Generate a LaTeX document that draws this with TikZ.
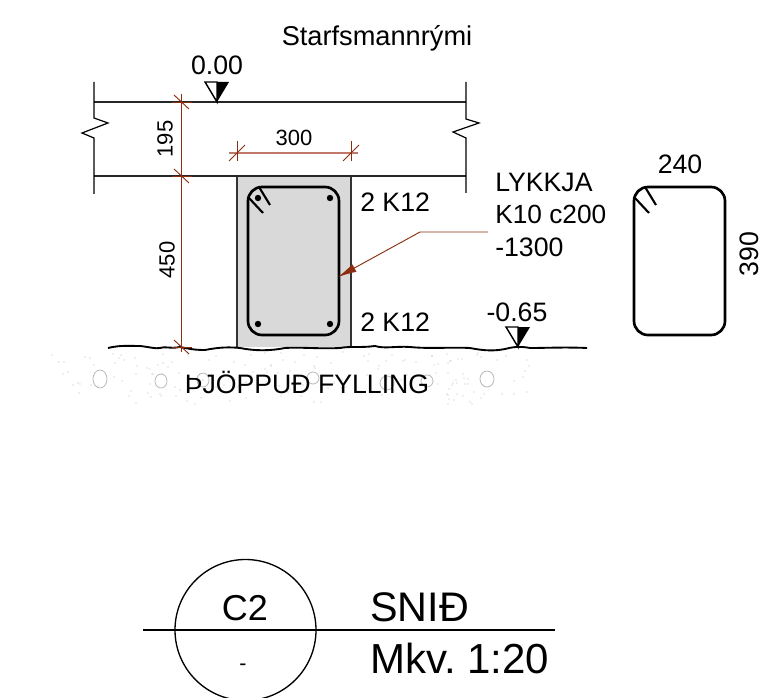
\documentclass[tikz,border=0pt]{standalone}
\usepackage{fontspec}
\setmainfont{Liberation Sans}
\usepackage{xcolor}
\usetikzlibrary{arrows.meta,calc,positioning}
\definecolor{dimred}{RGB}{140,45,15}
\definecolor{dimpale}{RGB}{192,120,104}
\definecolor{concrete}{RGB}{217,217,217}
\definecolor{stipple}{RGB}{185,185,185}
\newcommand{\TxtSize}[1]{\fontsize{#1}{#1}\selectfont}
\tikzset{
  slabLine/.style={line width=1.1pt, black!85},
  stirrup/.style={draw, rounded corners=10.5pt, line width=2pt},
  hook/.style={line width=1.6pt},
  bar/.style={circle, fill=black, minimum size=4.8pt, inner sep=0pt},
  dimLine/.style={dimred, line width=0.7pt},
  paleLine/.style={dimpale, line width=1.6pt},
  groundLine/.style={line width=1.4pt},
  stone/.style={stipple, line width=0.6pt},
  lbl/.style={inner sep=0pt, font=\TxtSize{20}},
  dimLbl/.style={inner sep=0pt, font=\TxtSize{16.5}},
  leftLbl/.style={lbl, anchor=west}
}
% level marker with its tip on the given point
\newcommand{\LevelMark}[1]{%
  \draw[line width=1.1pt, fill=white] (#1) -- ++(-12,-20) -- ++(12,0) -- cycle;
  \fill (#1) -- ++(0,-20) -- ++(12,0) -- cycle;
}
\begin{document}
\frenchspacing
\begin{tikzpicture}[x=0.75pt, y=-0.75pt]
  \useasboundingbox (0,0) rectangle (770,698);
  \clip (0,0) rectangle (770,698);
  % stippled fill below the ground
  \pgfmathsetseed{4711}
  \foreach \i in {1,...,170}{%
    \pgfmathsetmacro{\px}{52+random(0,480)}%
    \pgfmathsetmacro{\py}{352+random(0,52)}%
    \fill[stipple] (\px,\py) circle (0.45pt);
  }
  \foreach \cx/\cy/\rx/\ry in {100/379/7/9, 161/381/6/7, 203/380/6/7, 313/378/6/6, 387/383/7/7, 427/381/6/6, 487/379/7/8}{%
    \draw[stone] (\cx,\cy) ellipse ({\rx} and {\ry});
  }
  % column under the slab
  \fill[concrete] (237,176) rectangle (351,347);
  \draw[line width=0.8pt, black!80] (237,176) -- (237,347) (351,176) -- (351,347);
  % slab with break lines
  \draw[slabLine] (94,102) -- (466,102);
  \draw[slabLine] (94,176) -- (466,176);
  \draw[line width=0.9pt] (94,82) -- (94,118) -- (108,123) -- (82,133) -- (94,138) -- (94,194);
  \draw[line width=0.9pt] (466,82) -- (466,119) -- (479,123) -- (453,132) -- (466,138) -- (466,193);
  % ground
  \draw[groundLine] (108,348) .. controls (120,345) and (130,346) .. (140,346)
    .. controls (150,347) and (155,349) .. (160,348)
    .. controls (165,346) and (170,349) .. (180,347)
    .. controls (190,349) and (195,350) .. (205,350)
    .. controls (220,347) and (230,347) .. (240,348)
    .. controls (255,351) and (270,351) .. (285,348)
    .. controls (300,347) and (320,349) .. (340,348)
    .. controls (350,346) and (360,348) .. (375,346)
    .. controls (385,349) and (395,346) .. (410,347)
    .. controls (430,349) and (450,347) .. (470,348)
    .. controls (485,351) and (495,351) .. (505,349)
    .. controls (512,347) and (520,346) .. (530,348)
    .. controls (545,348) and (565,347) .. (587,348);
  % stirrup and bars of the section
  \draw[stirrup] (248,187) rectangle (339,335);
  \draw[hook] (259,187) -- (270,205);
  \draw[hook] (249,198) -- (263,213);
  \foreach \bx/\by [count=\n] in {258/198, 330/198, 258/324, 330/324}{%
    \node[bar] (bar\n) at (\bx,\by) {};
  }
  % loose stirrup on the right
  \draw[stirrup] (634,187) rectangle (725,335);
  \draw[hook] (645,187) -- (656,205);
  \draw[hook] (635,198) -- (649,213);
  % dimensions
  \coordinate (dimTop) at (181,94);
  \coordinate (dimBot) at (181,352);
  \draw[dimLine] (dimTop) -- (dimBot);
  \foreach \dy in {102,176,347}{%
    \draw[dimLine] (174,\dy-7) -- (189,\dy+7);
    \draw[dimLine] (172,\dy) -- (192,\dy);
  }
  \coordinate (widL) at (229,153);
  \coordinate (widR) at (358,153);
  \draw[paleLine] (widL) -- (widR);
  \foreach \dx in {237,351}{%
    \draw[dimLine] (\dx,141) -- (\dx,161);
    \draw[dimLine] (\dx-8,161) -- (\dx+8,145);
  }
  % leader to the stirrup
  \coordinate (leadEnd) at (488,232);
  \coordinate (leadBend) at (420,232);
  \coordinate (leadTip) at (338,277);
  \draw[dimLine, -{Latex[length=14pt, width=6.5pt]}] (leadEnd) -- (leadBend) -- (leadTip);
  % level marks
  \coordinate (topLevel) at (217,102);
  \coordinate (groundLevel) at (518,347);
  \LevelMark{topLevel}
  \LevelMark{groundLevel}
  % texts
  \node[lbl, font=\TxtSize{20.4}] (room) at (377,38) {Starfsmannrými};
  \node[lbl] (lvlA) at (217,65) {0.00};
  \node[lbl] (lvlB) at (517,312) {-0.65};
  \node[dimLbl] (width) at (294,138) {300};
  \node[dimLbl, rotate=90] (slabH) at (165,139) {195};
  \node[dimLbl, rotate=90] (colH) at (167,260) {450};
  \node[leftLbl] (topBars) at (360,202) {2 K12};
  \node[leftLbl] (botBars) at (360,322) {2 K12};
  \node[leftLbl] (loop) at (495,182) {LYKKJA};
  \node[leftLbl, font=\TxtSize{19.7}] (loopB) at (495,214) {K10 c200};
  \node[leftLbl] (loopC) at (495,247) {-1300};
  \node[lbl] (fill) at (307,382) {ÞJÖPPUÐ FYLLING};
  \node[lbl] (sizeW) at (680,164) {240};
  \node[lbl, rotate=90] (sizeH) at (749,254) {390};
  % title mark
  \node[draw, circle, line width=1pt, minimum size=141pt*0.75, inner sep=0pt] (mark) at (245.5,630) {};
  \coordinate (ruleL) at (143,630);
  \coordinate (ruleR) at (555,630);
  \draw[line width=1pt] (ruleL) -- (ruleR);
  \node[inner sep=0pt, font=\TxtSize{27}] (sheet) at (245,608) {C2};
  \node[inner sep=0pt, font=\TxtSize{16}] (drawing) at (243,667) {-};
  \node[inner sep=0pt, anchor=west, font=\TxtSize{31}] (title) at (370,607) {SNIÐ};
  \node[inner sep=0pt, anchor=west, font=\TxtSize{31.5}] (scale) at (370,658) {Mkv. 1:20};
\end{tikzpicture}
\end{document}
